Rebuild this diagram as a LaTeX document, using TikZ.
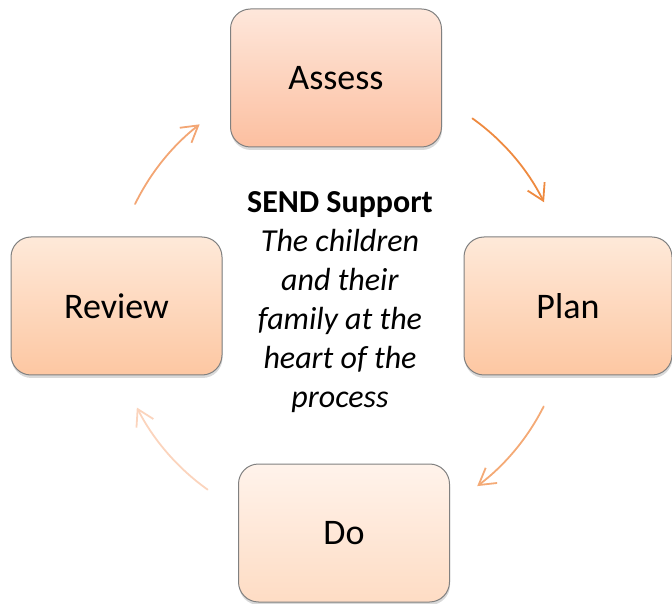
\documentclass[tikz,border=0pt]{standalone}
\usepackage{fontspec}
\setmainfont{Carlito}
\usetikzlibrary{arrows.meta,shadows}
\definecolor{assesstop}{HTML}{FEE7DB}
\definecolor{assessbot}{HTML}{FCBFA0}
\definecolor{sidetop}{HTML}{FEE9D9}
\definecolor{sidebot}{HTML}{FDC7A2}
\definecolor{dotop}{HTML}{FFF3EB}
\definecolor{dobot}{HTML}{FEDCC4}
\definecolor{arrowa}{HTML}{EE8A40}
\definecolor{arrowb}{HTML}{F4AA76}
\definecolor{arrowc}{HTML}{FBD4BD}
\definecolor{arrowd}{HTML}{F3A674}
\begin{document}
\begin{tikzpicture}[x=1pt,y=1pt]
    \tikzset{stage/.style={rectangle, rounded corners=20pt, draw=black!50, line width=1pt,
        minimum width=211pt, minimum height=138pt,
        drop shadow={shadow xshift=0.5pt, shadow yshift=-3pt, opacity=0.3},
        font=\fontsize{36}{43}\selectfont}}
    \tikzset{cycle/.style={line width=1.8pt, line cap=round,
        -{Straight Barb[length=16pt, width=19pt, line width=1.8pt]}}}
    \useasboundingbox (0,0) rectangle (672,603);

    \node[stage, top color=assesstop, bottom color=assessbot] (assess) at (336,525) {Assess};
    \node[stage, top color=sidetop, bottom color=sidebot, minimum width=208pt] (plan) at (568,297) {Plan};
    \node[stage, top color=dotop, bottom color=dobot] (do) at (344,70) {Do};
    \node[stage, top color=sidetop, bottom color=sidebot] (review) at (116.5,297) {Review};

    \node[align=center, font=\fontsize{32}{39}\selectfont] (support) at (340,301)
        {\textbf{SEND Support}\\ \textit{The children}\\ \textit{and their}\\
         \textit{family at the}\\ \textit{heart of the}\\ \textit{process}};

    % arcs round the middle
    \coordinate (hub) at (340,299);
    \coordinate (assess-out) at ([shift={(54.5:228)}]hub);
    \coordinate (plan-out) at ([shift={(-26.7:228)}]hub);
    \coordinate (do-out) at ([shift={(234.5:228)}]hub);
    \coordinate (review-out) at ([shift={(154:228)}]hub);

    \draw[cycle, arrowa] (assess-out) arc[start angle=54.5, end angle=26.5, radius=228];
    \draw[cycle, arrowb] (plan-out) arc[start angle=-26.7, end angle=-53, radius=228];
    \draw[cycle, arrowc] (do-out) arc[start angle=234.5, end angle=207, radius=228];
    \draw[cycle, arrowd] (review-out) arc[start angle=154, end angle=128, radius=228];
\end{tikzpicture}
\end{document}
